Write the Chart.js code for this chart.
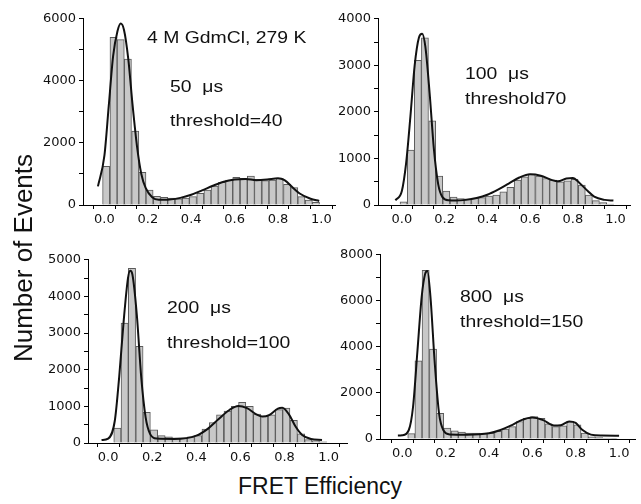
<!DOCTYPE html>
<html>
<head>
<meta charset="utf-8">
<script src="https://cdn.jsdelivr.net/npm/chart.js@4"></script>
<style>
  body { margin: 0; background: #fff; }
  #wrap { position: relative; width: 641px; height: 504px; overflow: hidden; }
  canvas { position: absolute; }
  .txt {
    position: absolute; font-family: "Liberation Sans", Arial, sans-serif;
    font-size: 17px; line-height: 17px; white-space: pre; color: #111;
    transform: scaleX(1.14); transform-origin: 0 0;
  }
  .ytitle {
    position: absolute; left: -92px; top: 245px; width: 230px; text-align: center;
    font-family: "Liberation Sans", Arial, sans-serif; font-size: 26px; line-height: 26px;
    color: #111; transform: rotate(-90deg);
  }
  .xtitle {
    position: absolute; left: 170px; top: 475px; width: 300px; text-align: center;
    font-family: "Liberation Sans", Arial, sans-serif; font-size: 23px; line-height: 23px; color: #111;
  }
</style>
</head>
<body>
<div id="wrap">
  <canvas id="c1" width="317" height="225" style="left:28px;top:8px"></canvas>
  <canvas id="c2" width="317" height="225" style="left:323px;top:8px"></canvas>
  <canvas id="c3" width="324" height="222" style="left:33px;top:249px"></canvas>
  <canvas id="c4" width="320" height="223" style="left:325px;top:244px"></canvas>

  <div class="txt" style="left:147px;top:29px">4 M GdmCl, 279 K</div>
  <div class="txt" style="left:170px;top:78px">50  μs</div>
  <div class="txt" style="left:170px;top:112px">threshold=40</div>
  <div class="txt" style="left:465px;top:65px">100  μs</div>
  <div class="txt" style="left:465px;top:90px">threshold70</div>
  <div class="txt" style="left:167px;top:299px">200  μs</div>
  <div class="txt" style="left:167px;top:334px">threshold=100</div>
  <div class="txt" style="left:460px;top:288px">800  μs</div>
  <div class="txt" style="left:460px;top:313px">threshold=150</div>

  <div class="ytitle">Number of Events</div>
  <div class="xtitle">FRET Efficiency</div>
</div>

<script>
// histogram bins (FRET efficiency, bin centres)
const binCenters = [0.008, 0.042, 0.075, 0.108, 0.142, 0.175, 0.208, 0.242, 0.275, 0.308,
  0.342, 0.375, 0.408, 0.442, 0.475, 0.508, 0.542, 0.575, 0.608, 0.642,
  0.675, 0.708, 0.742, 0.775, 0.808, 0.842, 0.875, 0.908, 0.942, 0.975];

// 50 us, threshold=40
const counts50 = [1250, 5400, 5330, 4700, 2380, 1050, 480, 280, 250, 220,
  200, 220, 270, 375, 480, 610, 730, 805, 890, 860,
  935, 830, 785, 805, 860, 665, 560, 270, 160, 85];
const fit50X = [-0.03, 0, 0.02, 0.04, 0.06, 0.075, 0.09, 0.11, 0.13, 0.15, 0.17, 0.19, 0.22, 0.25, 0.3,
  0.35, 0.4, 0.45, 0.5, 0.55, 0.6, 0.65, 0.7, 0.75, 0.8, 0.83, 0.87, 0.9, 0.95, 0.99];
const fit50Y = [600, 1600, 3200, 4800, 5600, 5850, 5650, 4700, 3200, 1900, 1000, 550, 250, 170, 180,
  230, 330, 470, 620, 750, 820, 840, 800, 820, 860, 800, 550, 370, 200, 130];

// 100 us, threshold70
const counts100 = [70, 1180, 3110, 3590, 1810, 620, 300, 170, 140, 130,
  150, 160, 190, 215, 285, 380, 535, 607, 665, 620,
  570, 535, 500, 520, 550, 430, 215, 93, 50, 20];
const fit100X = [-0.03, 0, 0.02, 0.04, 0.06, 0.08, 0.095, 0.11, 0.13, 0.15, 0.17, 0.19, 0.22, 0.25, 0.3,
  0.35, 0.4, 0.45, 0.5, 0.55, 0.6, 0.65, 0.7, 0.73, 0.77, 0.8, 0.83, 0.87, 0.9, 0.95, 0.99];
const fit100Y = [100, 300, 900, 1900, 3000, 3600, 3680, 3400, 2400, 1200, 450, 170, 100, 95, 110,
  150, 220, 330, 460, 590, 660, 630, 540, 510, 570, 580, 480, 300, 180, 110, 95];

// 200 us, threshold=100
const counts200 = [0, 410, 3270, 4770, 2640, 840, 360, 200, 165, 140,
  140, 165, 200, 380, 560, 770, 870, 1000, 1110, 1000,
  790, 730, 770, 910, 950, 620, 250, 90, 60, 35];
const fit200X = [-0.03, 0, 0.03, 0.05, 0.07, 0.09, 0.1, 0.11, 0.13, 0.15, 0.17, 0.19, 0.22, 0.3, 0.4,
  0.45, 0.5, 0.55, 0.59, 0.63, 0.67, 0.7, 0.73, 0.77, 0.79, 0.82, 0.85, 0.88, 0.92, 0.97];
const fit200Y = [80, 120, 600, 1800, 3300, 4500, 4700, 4600, 3500, 1800, 700, 250, 120, 110, 200,
  380, 650, 900, 1010, 950, 790, 720, 760, 940, 960, 780, 450, 220, 110, 80];

// 800 us, threshold=150
const counts800 = [0, 230, 3400, 7330, 3900, 1110, 470, 360, 300, 260,
  260, 230, 260, 330, 430, 540, 760, 900, 970, 900,
  660, 540, 570, 760, 615, 260, 90, 60, 40, 30];
const fit800X = [-0.02, 0, 0.03, 0.05, 0.07, 0.09, 0.105, 0.116, 0.13, 0.15, 0.17, 0.19, 0.22, 0.3,
  0.4, 0.45, 0.5, 0.55, 0.6, 0.65, 0.7, 0.73, 0.77, 0.8, 0.83, 0.87, 0.92, 1.0];
const fit800Y = [150, 160, 380, 1400, 3800, 6200, 7150, 7300, 6200, 3300, 1100, 380, 200, 190,
  250, 380, 580, 820, 930, 820, 590, 600, 760, 700, 400, 190, 150, 145];

// axis ticks (minor + labelled)
const xTicks = [0, 0.1, 0.2, 0.3, 0.4, 0.5, 0.6, 0.7, 0.8, 0.9, 1.0];
const xLabels = [0, 0.2, 0.4, 0.6, 0.8, 1.0];
const yTicks50 = [0, 1000, 2000, 3000, 4000, 5000, 6000];
const yLabels50 = [0, 2000, 4000, 6000];
const yTicks100 = [0, 500, 1000, 1500, 2000, 2500, 3000, 3500, 4000];
const yLabels100 = [0, 1000, 2000, 3000, 4000];
const yTicks200 = [0, 500, 1000, 1500, 2000, 2500, 3000, 3500, 4000, 4500, 5000];
const yLabels200 = [0, 1000, 2000, 3000, 4000, 5000];
const yTicks800 = [0, 1000, 2000, 3000, 4000, 5000, 6000, 7000, 8000];
const yLabels800 = [0, 2000, 4000, 6000, 8000];

Chart.defaults.font.family = "'DejaVu Sans', sans-serif";
Chart.defaults.font.size = 13;
Chart.defaults.color = "#111";

function hasVal(arr, v) {
  return arr.some(function (a) { return Math.abs(a - v) < 1e-6; });
}

function makePanel(id, xMin, xMax, yMax, yTicks, yLabels, counts, fitX, fitY) {
  var canvas = document.getElementById(id);
  new Chart(canvas, {
    type: "bar",
    data: {
      datasets: [
        {
          type: "line",
          data: fitX.map(function (x, i) { return { x: x, y: fitY[i] }; }),
          borderColor: "#111",
          borderWidth: 2,
          pointRadius: 0,
          fill: false,
          cubicInterpolationMode: "monotone",
          order: 0,
        },
        {
          type: "bar",
          data: binCenters.map(function (x, i) { return { x: x, y: counts[i] }; }),
          backgroundColor: "#c8c8c8",
          borderColor: "#5a5a5a",
          borderWidth: 1,
          barPercentage: 1,
          categoryPercentage: 1,
          order: 1,
        },
      ],
    },
    options: {
      responsive: false,
      animation: false,
      devicePixelRatio: 1,
      layout: { padding: { top: 10, right: 10, left: 0, bottom: 0 } },
      plugins: { legend: { display: false }, tooltip: { enabled: false } },
      scales: {
        x: {
          type: "linear",
          min: xMin,
          max: xMax,
          afterBuildTicks: function (s) { s.ticks = xTicks.map(function (v) { return { value: v }; }); },
          afterFit: function (s) { s.height = 28; },
          grid: { drawOnChartArea: false, tickLength: 4, color: "#000" },
          border: { color: "#000", width: 1 },
          ticks: {
            padding: 3,
            autoSkip: false,
            maxRotation: 0,
            callback: function (v) { return hasVal(xLabels, v) ? v.toFixed(1) : ""; },
          },
        },
        y: {
          min: 0,
          max: yMax,
          afterBuildTicks: function (s) { s.ticks = yTicks.map(function (v) { return { value: v }; }); },
          afterFit: function (s) { s.width = 55; },
          grid: { drawOnChartArea: false, tickLength: 4, color: "#000" },
          border: { color: "#000", width: 1 },
          ticks: {
            padding: 3,
            autoSkip: false,
            callback: function (v) { return hasVal(yLabels, v) ? String(v) : ""; },
          },
        },
      },
    },
  });
}

makePanel("c1", -0.046, 1.01, 6000, yTicks50, yLabels50, counts50, fit50X, fit50Y);
makePanel("c2", -0.058, 1.014, 4000, yTicks100, yLabels100, counts100, fit100X, fit100Y);
makePanel("c3", -0.038, 1.03, 5000, yTicks200, yLabels200, counts200, fit200X, fit200Y);
makePanel("c4", -0.049, 1.02, 8000, yTicks800, yLabels800, counts800, fit800X, fit800Y);
</script>
</body>
</html>
